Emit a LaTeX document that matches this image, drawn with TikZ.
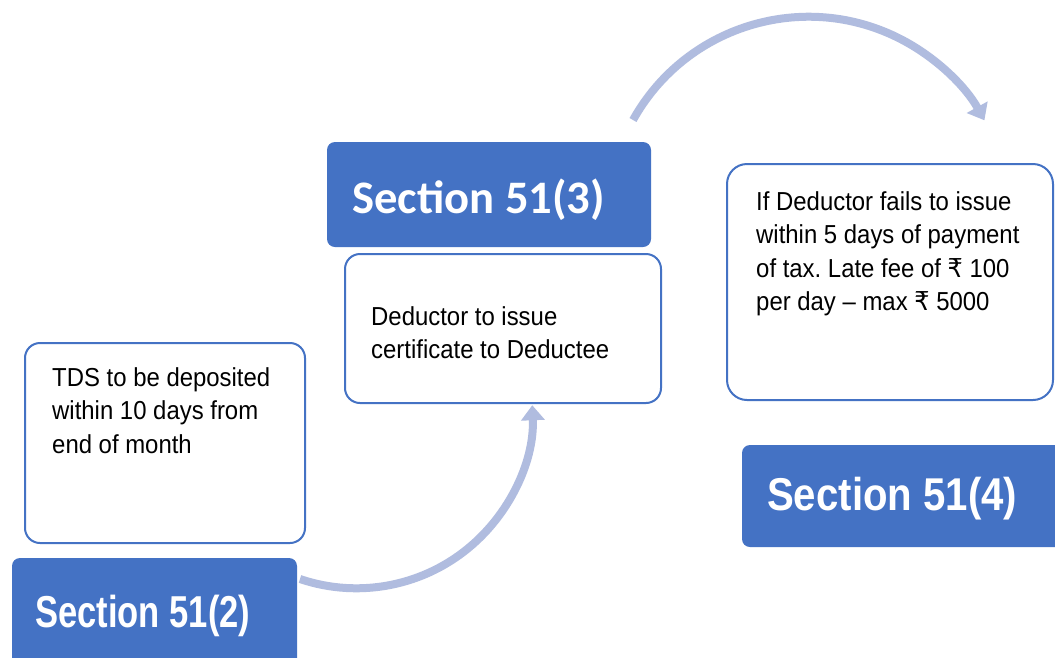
\documentclass[tikz,border=0pt]{standalone}
\usepackage{fontspec}
\usepackage{graphicx}
\setmainfont{Liberation Sans}
\newfontfamily\bodyfont[FakeStretch=0.92]{Liberation Sans}
\newfontfamily\rupeefont[FakeStretch=0.92]{DejaVu Sans}
\newfontfamily\calfont{Carlito}
\newcommand{\inr}{{\rupeefont ₹}}
\usetikzlibrary{arrows.meta}
\definecolor{accblue}{HTML}{4472C4}
\definecolor{arrowblue}{HTML}{B0BCDF}
\tikzset{
  secbox/.style={fill=accblue, draw=none, rounded corners=8pt, inner sep=0pt},
  infobox/.style={draw=accblue, line width=2pt, fill=white, rounded corners=15pt, inner sep=0pt},
  sectext/.style={anchor=base west, inner sep=0pt, text=white},
  bodytext/.style={anchor=base west, inner sep=0pt, align=left, font=\bodyfont\fontsize{26}{33.5}\selectfont\frenchspacing},
  flow/.style={draw=arrowblue, line width=8pt, -{Triangle[width=23pt,length=15pt]}},
}
\begin{document}
\begin{tikzpicture}[x=1pt,y=-1pt]
\useasboundingbox (0,0) rectangle (1055,657);
\clip (0,0) rectangle (1055,657);
\fill[white] (0,0) rectangle (1055,657);

% boxes
\node[secbox, minimum width=285pt, minimum height=122pt] (s2) at (154.5,619) {};
\node[infobox, minimum width=280pt, minimum height=200pt] (tds) at (165,443) {};
\node[secbox, minimum width=324pt, minimum height=105pt] (s3) at (489,194.5) {};
\node[infobox, minimum width=316pt, minimum height=149pt] (ded) at (503,328.5) {};
\node[infobox, rounded corners=20pt, minimum width=326pt, minimum height=236pt] (fail) at (890,282) {};
\node[secbox, minimum width=328pt, minimum height=102pt] (s4) at (906,496) {};

% section titles
\node[sectext] (t2) at (35,627) {\scalebox{0.773}[1]{\fontsize{44.7}{50}\selectfont\bfseries Section 51(2)}};
\node[sectext] (t3) at (352,213) {\calfont\fontsize{46.6}{52}\selectfont\bfseries Section 51(3)};
\node[sectext] (t4) at (767,510) {\scalebox{0.873}[1]{\fontsize{46}{52}\selectfont\bfseries Section 51(4)}};

% body texts (anchor = baseline of last line)
\node[bodytext] (x1) at (52,453) {TDS to be deposited\\within 10 days from\\end of month};
\node[bodytext] (x2) at (371,358.5) {Deductor to issue\\certificate to Deductee};
\node[bodytext] (x3) at (756,310.5) {If Deductor fails to issue\\within 5 days of payment\\of tax. Late fee of \inr{} 100\\per day – max \inr{} 5000};

% arrows
\coordinate (a1s) at (300,579);
\draw[flow] (a1s) arc[start angle=108.7, end angle=-2.3, radius=176];
\coordinate (a2s) at (633,120);
\draw[flow] (a2s) arc[start angle=-150.9, end angle=-29, radius=201];
\end{tikzpicture}
\end{document}
